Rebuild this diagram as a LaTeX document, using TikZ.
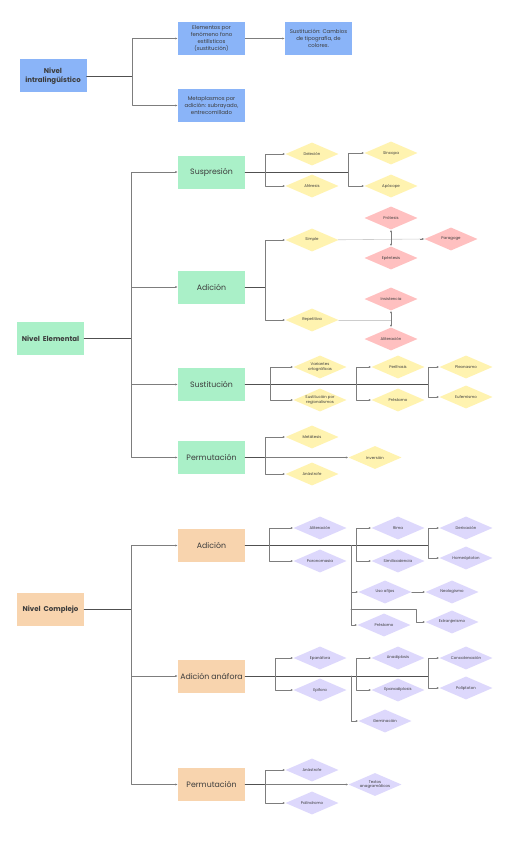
\documentclass[tikz,border=0pt]{standalone}
\usepackage{fontspec}
\setmainfont{Poppins}
\usetikzlibrary{shapes.geometric,arrows.meta}
\definecolor{blueb}{RGB}{138,180,248}
\definecolor{greenb}{RGB}{170,240,200}
\definecolor{orangeb}{RGB}{248,212,174}
\definecolor{yellowd}{RGB}{255,243,176}
\definecolor{pinkd}{RGB}{255,192,192}
\definecolor{lilacd}{RGB}{221,216,252}
\definecolor{trunkgray}{RGB}{80,80,80}
\definecolor{conngray}{RGB}{125,125,125}
\definecolor{faintgray}{RGB}{205,205,205}
\definecolor{txtgray}{RGB}{60,60,60}
\tikzset{
  box/.style={rectangle,minimum width=67pt,minimum height=33pt,inner sep=1pt,align=center,text=txtgray},
  lvlbox/.style={box,font=\bfseries\fontsize{7}{8.8}\selectfont},
  subbox/.style={box,font=\fontsize{7.8}{9.5}\selectfont},
  notebox/.style={box,font=\fontsize{5.4}{6.8}\selectfont},
  fig/.style={diamond,aspect=2.3,minimum width=53pt,minimum height=23pt,inner sep=0.3pt,
    align=center,text=txtgray,font=\fontsize{3.9}{4.5}\selectfont},
  trunk/.style={draw=trunkgray,line width=0.9pt},
  conn/.style={draw=conngray,line width=0.6pt,-{Latex[length=2.4pt,width=2pt]}},
  faint/.style={draw=faintgray,line width=0.6pt},
}
\begin{document}
\begin{tikzpicture}[x=1pt,y=-1pt,line cap=round,line join=round]
  \useasboundingbox[fill=white] (0,0) rectangle (513,848);
  % nivel intralinguistico
  \node[lvlbox,fill=blueb] (intra) at (53,76) {Nivel\\intralingüístico};
  \node[notebox,fill=blueb] (fono) at (211.5,38.5) {Elementos por\\fenómeno fono\\estilísticos\\(sustitución)};
  \node[notebox,fill=blueb] (tipo) at (318.5,38.5) {Sustitución: Cambios\\de tipografía, de\\colores.};
  \node[notebox,fill=blueb] (meta) at (211.5,105.5) {Metaplasmos por\\adición: subrayado,\\entrecomillado};
  \coordinate (j0) at (132,76);
  \draw[trunk] (intra) -- (j0);
  \draw[conn] (j0) |- (fono);
  \draw[conn] (j0) |- (meta);
  \draw[conn] (fono) -- (tipo);

  % nivel elemental
  \node[lvlbox,fill=greenb] (elem) at (50.5,338.5) {Nivel\ \ Elemental};
  \node[subbox,fill=greenb] (supr) at (211.5,172) {Suspresión};
  \node[subbox,fill=greenb] (adic) at (211.5,287) {Adición};
  \node[subbox,fill=greenb] (sust) at (211.5,384.5) {Sustitución};
  \node[subbox,fill=greenb] (perm) at (211.5,457.5) {Permutación};
  \coordinate (jE) at (131,338.5);
  \draw[trunk] (elem) -- (jE);
  \foreach \n in {supr,adic,sust,perm}
    \draw[conn] (jE) |- (\n);

  % suspresion
  \node[fig,fill=yellowd] (delec) at (312,154) {Deleción};
  \node[fig,fill=yellowd] (afer) at (312,186) {Aféresis};
  \node[fig,fill=yellowd] (sinc) at (391,153) {Síncopa};
  \node[fig,fill=yellowd] (apoc) at (391,186) {Apócope};
  \coordinate (s1) at (265,172);
  \coordinate (s2) at (348,172);
  \draw[trunk] (supr) -- (s2);
  \draw[conn] (s1) |- (delec);
  \draw[conn] (s1) |- (afer);
  \draw[conn] (s2) |- (sinc);
  \draw[conn] (s2) |- (apoc);

  % adicion
  \node[fig,fill=yellowd] (simple) at (312,240) {Simple};
  \node[fig,fill=yellowd] (repet) at (312,320) {Repetitiva};
  \node[fig,fill=pinkd] (protes) at (391,218) {Prótesis};
  \node[fig,fill=pinkd] (epent) at (391,258) {Epéntesis};
  \node[fig,fill=pinkd] (parag) at (451,239) {Paragoge};
  \node[fig,fill=pinkd] (insist) at (391,299) {Insistencia};
  \node[fig,fill=pinkd] (alit) at (391,339) {Aliteración};
  \coordinate (a1) at (265,287);
  \coordinate (a2) at (391,320);
  \draw[trunk] (adic) -- (a1);
  \draw[conn] (a1) |- (simple);
  \draw[conn] (a1) |- (repet);
  \draw[faint] (simple) -- (parag.west);
  \draw[conn] ([xshift=-4pt]parag.west) -- (parag);
  \draw[conn,{Latex[length=2.4pt,width=2pt]}-{Latex[length=2.4pt,width=2pt]}] (protes) -- (epent);
  \draw[faint] (repet) -- (a2);
  \draw[conn] (a2) -- (insist);
  \draw[conn] (a2) -- (alit);

  % sustitucion
  \node[fig,fill=yellowd] (varia) at (320,367) {Variantes\\ortográficas};
  \node[fig,fill=yellowd] (regio) at (320,400) {Sustitución por\\regionalismos};
  \node[fig,fill=yellowd] (perif) at (398,367) {Perífrasis};
  \node[fig,fill=yellowd] (prest) at (398,400) {Préstamo};
  \node[fig,fill=yellowd] (pleon) at (466,367) {Pleonasmo};
  \node[fig,fill=yellowd] (eufem) at (466,397) {Eufemismo};
  \coordinate (t1) at (270,384.5);
  \coordinate (t2) at (356,384.5);
  \coordinate (t3) at (428,384.5);
  \draw[trunk] (sust) -- (t3);
  \draw[conn] (t1) |- (varia);
  \draw[conn] (t1) |- (regio);
  \draw[conn] (t2) |- (perif);
  \draw[conn] (t2) |- (prest);
  \draw[conn] (t3) |- (pleon);
  \draw[conn] (t3) |- (eufem);

  % permutacion
  \node[fig,fill=yellowd] (metat) at (312,437) {Metátesis};
  \node[fig,fill=yellowd] (anast) at (312,474) {Anástrofe};
  \node[fig,fill=yellowd] (inver) at (375,457.5) {Inversión};
  \coordinate (p1) at (265,457.5);
  \draw[trunk] (perm) -- (p1);
  \draw[conn] (p1) -- (inver);
  \draw[conn] (p1) |- (metat);
  \draw[conn] (p1) |- (anast);

  % nivel complejo
  \node[lvlbox,fill=orangeb] (compl) at (50.5,609.5) {Nivel\ \ Complejo};
  \node[subbox,fill=orangeb] (adic2) at (211.5,545.5) {Adición};
  \node[subbox,fill=orangeb] (anaf) at (211.5,676) {Adición anáfora};
  \node[subbox,fill=orangeb] (perm2) at (211.5,784.5) {Permutación};
  \coordinate (jC) at (131,609.5);
  \draw[trunk] (compl) -- (jC);
  \foreach \n in {adic2,anaf,perm2}
    \draw[conn] (jC) |- (\n);

  % adicion (complejo)
  \node[fig,fill=lilacd] (alit2) at (320,528) {Aliteración};
  \node[fig,fill=lilacd] (paron) at (320,561) {Paronomasia};
  \node[fig,fill=lilacd] (rima) at (398,528) {Rima};
  \node[fig,fill=lilacd] (simil) at (398,561) {Similicadencia};
  \node[fig,fill=lilacd] (deriv) at (466,528) {Derivación};
  \node[fig,fill=lilacd] (homeo) at (466,558) {Homeóptoton};
  \node[fig,fill=lilacd] (afijo) at (385,592) {Uso afijos};
  \node[fig,fill=lilacd] (prest2) at (384,625) {Préstamo};
  \node[fig,fill=lilacd] (neolo) at (452,592) {Neologismo};
  \node[fig,fill=lilacd] (extra) at (452,622) {Extranjerismo};
  \coordinate (c1) at (269,545.5);
  \coordinate (c2) at (356,545.5);
  \coordinate (c3) at (428,545.5);
  \coordinate (c4) at (351,545.5);
  \coordinate (c5) at (351,609);
  \coordinate (c6) at (416,609);
  \draw[trunk] (adic2) -- (c3);
  \draw[conn] (c1) |- (alit2);
  \draw[conn] (c1) |- (paron);
  \draw[conn] (c2) |- (rima);
  \draw[conn] (c2) |- (simil);
  \draw[conn] (c3) |- (deriv);
  \draw[conn] (c3) |- (homeo);
  \draw[trunk] (c4) -- (c5);
  \draw[conn] (c4) |- (afijo);
  \draw[conn] (c4) |- (prest2);
  \draw[conn] (afijo) -- (neolo);
  \draw[conn] (c5) -- (c6) |- (extra);

  % adicion anafora
  \node[fig,fill=lilacd] (epanaf) at (320,658) {Epanáfora};
  \node[fig,fill=lilacd] (epif) at (320,690) {Epífora};
  \node[fig,fill=lilacd] (anadi) at (398,658) {Anadiplosis};
  \node[fig,fill=lilacd] (epanad) at (398,690) {Epanadiplosis};
  \node[fig,fill=lilacd] (conca) at (466,658) {Concatenación};
  \node[fig,fill=lilacd] (polip) at (466,688) {Políptoton};
  \node[fig,fill=lilacd] (gemin) at (385,721) {Geminación};
  \coordinate (d1) at (275,676);
  \coordinate (d2) at (356,676);
  \coordinate (d3) at (428,676);
  \coordinate (d4) at (351,676);
  \draw[trunk] (anaf) -- (d3);
  \draw[conn] (d1) |- (epanaf);
  \draw[conn] (d1) |- (epif);
  \draw[conn] (d2) |- (anadi);
  \draw[conn] (d2) |- (epanad);
  \draw[conn] (d3) |- (conca);
  \draw[conn] (d3) |- (polip);
  \draw[conn] (d4) |- (gemin);

  % permutacion (complejo)
  \node[fig,fill=lilacd] (anast2) at (312,770) {Anástrofe};
  \node[fig,fill=lilacd] (palin) at (312,803) {Palíndromo};
  \node[fig,fill=lilacd] (anagr) at (375,784.5) {Textos\\anagramáticos};
  \coordinate (q1) at (265,784.5);
  \draw[trunk] (perm2) -- (q1);
  \draw[conn] (q1) -- (anagr);
  \draw[conn] (q1) |- (anast2);
  \draw[conn] (q1) |- (palin);
\end{tikzpicture}
\end{document}
